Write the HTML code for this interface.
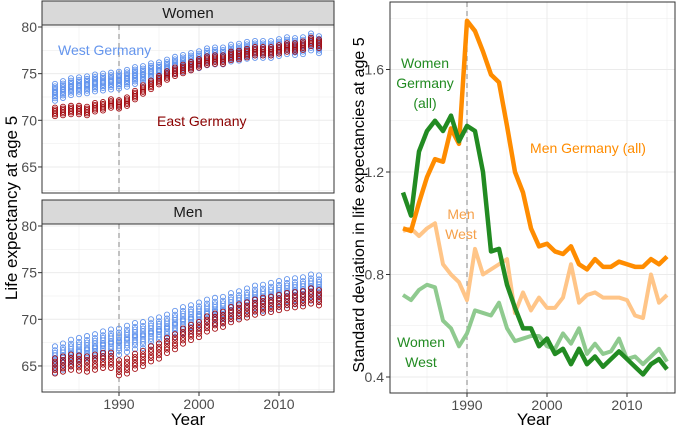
<!DOCTYPE html>
<html><head><meta charset="utf-8"><style>
body{margin:0;background:#fff;font-family:"Liberation Sans",sans-serif}
svg text{font-family:"Liberation Sans",sans-serif}
</style></head><body>
<svg id="c" width="680" height="428" viewBox="0 0 680 428" xmlns="http://www.w3.org/2000/svg"></svg>
<script>
const years=[1982,1983,1984,1985,1986,1987,1988,1989,1990,1991,1992,1993,1994,1995,1996,1997,1998,1999,2000,2001,2002,2003,2004,2005,2006,2007,2008,2009,2010,2011,2012,2013,2014,2015];
const womenWestMean=[73.0,73.3,73.6,73.7,73.8,74.0,74.1,74.2,74.3,74.5,74.8,74.9,75.2,75.3,75.6,75.9,76.1,76.3,76.5,76.8,76.9,76.9,77.2,77.3,77.5,77.6,77.6,77.6,77.8,78.0,77.9,78.0,78.4,78.1];
const womenEastMean=[70.9,71.0,71.1,71.1,71.0,71.4,71.5,71.8,71.7,72.0,72.7,73.3,73.8,74.3,74.8,75.2,75.5,75.8,76.1,76.4,76.5,76.5,76.9,77.0,77.2,77.4,77.4,77.4,77.6,77.8,77.8,78.0,78.4,78.2];
const menWestMean=[65.7,66.0,66.4,66.6,66.8,67.0,67.3,67.5,67.6,67.9,68.2,68.3,68.6,68.8,69.1,69.5,69.9,70.1,70.4,70.7,70.9,71.0,71.4,71.6,71.9,72.2,72.3,72.5,72.7,72.9,73.0,73.1,73.4,73.3];
const menEastMean=[65.0,65.2,65.4,65.3,65.2,65.4,65.6,65.6,64.8,65.0,65.5,65.8,66.3,66.6,67.2,67.6,68.2,68.6,68.9,69.5,69.8,70.0,70.5,70.8,71.0,71.3,71.5,71.6,71.8,72.0,72.1,72.2,72.5,72.3];
const westOffsets=[-1.0,-0.7,-0.5,-0.3,-0.1,0,0.1,0.3,0.5,0.7,1.0];
const eastOffsets=[-0.9,-0.5,-0.2,0.2,0.5,0.9];
const womenWestSpread=0.9, womenEastSpread=0.5, menWestSpread=1.4, menEastSpread=0.9;
const menAll=[0.98,0.97,1.08,1.18,1.25,1.24,1.37,1.31,1.79,1.75,1.67,1.58,1.55,1.38,1.20,1.12,0.98,0.91,0.92,0.89,0.88,0.91,0.84,0.82,0.86,0.83,0.83,0.85,0.84,0.83,0.83,0.86,0.84,0.87];
const womenAll=[1.12,1.03,1.28,1.36,1.40,1.36,1.42,1.32,1.38,1.36,1.20,0.89,0.90,0.76,0.67,0.59,0.59,0.52,0.55,0.49,0.51,0.45,0.51,0.45,0.48,0.44,0.47,0.50,0.47,0.44,0.41,0.45,0.47,0.43];
const menWest=[0.97,0.98,0.95,0.98,1.00,0.84,0.80,0.77,0.70,0.90,0.80,0.82,0.84,0.86,0.65,0.73,0.66,0.71,0.67,0.67,0.71,0.84,0.69,0.72,0.73,0.71,0.71,0.71,0.70,0.64,0.63,0.80,0.69,0.72];
const womenWest=[0.72,0.70,0.74,0.76,0.75,0.62,0.59,0.52,0.57,0.66,0.65,0.64,0.69,0.59,0.54,0.55,0.56,0.56,0.52,0.51,0.57,0.53,0.59,0.49,0.53,0.49,0.50,0.55,0.47,0.48,0.45,0.48,0.51,0.46];
const leftYTicks=[65,70,75,80];
const rightYTicks=[0.4,0.8,1.2,1.6];
const xTicks=[1990,2000,2010];

const svg=document.getElementById('c');const NS='http://www.w3.org/2000/svg';
function el(t,a,p){const e=document.createElementNS(NS,t);for(const k in a)e.setAttribute(k,a[k]);(p||svg).appendChild(e);return e;}
const xL=y=>119+(y-1990)*8;
const xR=y=>467+(y-1990)*8;
const yR=v=>377-(v-0.4)*256.25;
function panel(top,bottom,yOf,title,name){
  const g=el('g',{});
  
  
  el('rect',{x:42,y:top,width:292,height:bottom-top,fill:'#fff'},g);
  for(let v=62.5;v<=80;v+=2.5){el('line',{x1:42,x2:334,y1:yOf(v),y2:yOf(v),stroke:'#ebebeb','stroke-width':v%5===0?1:0.5},g);}
  for(let y=1985;y<=2015;y+=5){el('line',{x1:xL(y),x2:xL(y),y1:top,y2:bottom,stroke:'#ebebeb','stroke-width':y%10===0?1:0.5},g);}
  el('line',{x1:119,x2:119,y1:top,y2:bottom,stroke:'#999','stroke-dasharray':'5,4','stroke-width':1.2},g);
  leftYTicks.forEach(v=>{const t=el('text',{x:37,y:yOf(v)+5,'text-anchor':'end','font-size':14,fill:'#4d4d4d'},g);t.textContent=v;
    
    el('line',{x1:38,x2:42,y1:yOf(v),y2:yOf(v),stroke:'#333'},g);});
  const strip=el('rect',{x:42,y:top-24,width:292,height:24,fill:'#d9d9d9',stroke:'#333'},g);
  
  const st=el('text',{x:188,y:top-7,'text-anchor':'middle','font-size':15,fill:'#1a1a1a'},g);st.textContent=title;
  
  return g;
}
const yW=v=>27+(80-v)*9.33, yM=v=>226+(80-v)*9.33;
const gW=panel(25,193,yW,'Women','women-panel');
const gM=panel(224,392,yM,'Men','men-panel');
function dots(g,mean,offs,spread,yOf,col,name){
  years.forEach((yr,i)=>{offs.forEach(o=>{const c=el('circle',{cx:xL(yr),cy:yOf(mean[i]+o*spread),r:2.6,fill:'none',stroke:col,'stroke-width':0.9},g);
    });});
}
dots(gW,womenWestMean,westOffsets,womenWestSpread,yW,'#6495ed','west-point');
dots(gW,womenEastMean,eastOffsets,womenEastSpread,yW,'#a50f15','east-point');
dots(gM,menWestMean,westOffsets,menWestSpread,yM,'#6495ed','west-point');
dots(gM,menEastMean,eastOffsets,menEastSpread,yM,'#a50f15','east-point');
[gW,gM].forEach((g,k)=>{el('rect',{x:42,y:k?224:25,width:292,height:168,fill:'none',stroke:'#333'},g);});
let t=el('text',{x:58,y:55,'font-size':14,fill:'#6495ed'});t.textContent='West Germany';

t=el('text',{x:157,y:126,'font-size':14,fill:'#8b0000'});t.textContent='East Germany';

xTicks.forEach(v=>{el('line',{x1:xL(v),x2:xL(v),y1:392,y2:396,stroke:'#333'});
  const tt=el('text',{x:xL(v),y:409,'text-anchor':'middle','font-size':14,fill:'#4d4d4d'});tt.textContent=v;
  });
t=el('text',{x:188,y:425,'text-anchor':'middle','font-size':17,fill:'#000'});t.textContent='Year';

t=el('text',{x:0,y:0,'text-anchor':'middle','font-size':17,fill:'#000',transform:'translate(17,208) rotate(-90)'});t.textContent='Life expectancy at age 5';


const gr=el('g',{});

for(let v=0.4;v<=1.81;v+=0.2){el('line',{x1:390,x2:675,y1:yR(v),y2:yR(v),stroke:'#ebebeb','stroke-width':Math.round(v*10)%4===0?1:0.5},gr);}
for(let y=1985;y<=2015;y+=5){el('line',{x1:xR(y),x2:xR(y),y1:2,y2:393,stroke:'#ebebeb','stroke-width':y%10===0?1:0.5},gr);}
el('line',{x1:467,x2:467,y1:2,y2:393,stroke:'#999','stroke-dasharray':'5,4','stroke-width':1.2},gr);
function line(d,col,w,name){const p=el('polyline',{points:years.map((y,i)=>xR(y)+','+yR(d[i])).join(' '),fill:'none',stroke:col,'stroke-width':w,'stroke-linejoin':'round'},gr);
  }
line(menWest,'#ffc588',4,'men-west-line');
line(womenWest,'#8fca8f',4,'women-west-line');
line(menAll,'#ff8c00',4.5,'men-germany-line');
line(womenAll,'#228b22',4.5,'women-germany-line');
el('rect',{x:390,y:2,width:285,height:391,fill:'none',stroke:'#333'},gr);
rightYTicks.forEach(v=>{el('line',{x1:386,x2:390,y1:yR(v),y2:yR(v),stroke:'#333'});
  const tt=el('text',{x:384,y:yR(v)+5,'text-anchor':'end','font-size':14,fill:'#4d4d4d'});tt.textContent=v.toFixed(1);
  });
xTicks.forEach(v=>{el('line',{x1:xR(v),x2:xR(v),y1:393,y2:397,stroke:'#333'});
  const tt=el('text',{x:xR(v),y:410,'text-anchor':'middle','font-size':14,fill:'#4d4d4d'});tt.textContent=v;
  });
t=el('text',{x:534,y:425,'text-anchor':'middle','font-size':17,fill:'#000'});t.textContent='Year';

t=el('text',{x:0,y:0,'text-anchor':'middle','font-size':16,fill:'#000',transform:'translate(364,205) rotate(-90)'});t.textContent='Standard deviation in life expectancies at age 5';

function lab(lines,x,y,col,name){lines.forEach((s,i)=>{const tt=el('text',{x:x,y:y+i*20,'text-anchor':'middle','font-size':14,fill:col});tt.textContent=s;
  });}
lab(['Women','Germany','(all)'],425,68,'#228b22','women-germany-label');
lab(['Men Germany (all)'],588,153,'#ff8c00','men-germany-label');
lab(['Men','West'],461,219,'#f5a04a','men-west-label');
lab(['Women','West'],421,347,'#228b22','women-west-label');
</script>
</body></html>
